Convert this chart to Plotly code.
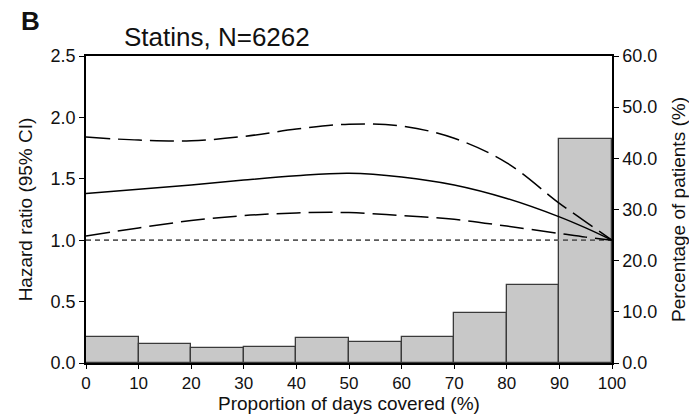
import plotly.graph_objects as go

# ---- data ----
pdc_bin_centers = [5, 15, 25, 35, 45, 55, 65, 75, 85, 95]
pct_patients = [5.1, 3.75, 2.9, 3.2, 4.9, 4.1, 5.0, 9.8, 15.2, 43.7]

pdc_x = [0, 10, 20, 30, 40, 50, 60, 70, 80, 90, 95, 100]
hr_est = [1.38, 1.415, 1.45, 1.49, 1.525, 1.545, 1.515, 1.45, 1.34, 1.19, 1.10, 1.0]
hr_upper = [1.84, 1.815, 1.81, 1.845, 1.905, 1.945, 1.93, 1.83, 1.63, 1.30, 1.15, 1.0]
hr_lower = [1.035, 1.10, 1.16, 1.20, 1.222, 1.225, 1.20, 1.17, 1.115, 1.055, 1.025, 1.0]

ref_x = [0, 100]
ref_y = [1.0, 1.0]

x_ticks = [0, 10, 20, 30, 40, 50, 60, 70, 80, 90, 100]

FONT = "Liberation Sans, Arial, sans-serif"
INK = "#111111"

fig = go.Figure()

fig.add_trace(go.Bar(
    x=pdc_bin_centers, y=pct_patients, width=10,
    marker=dict(color="#c8c8c8", line=dict(color="#3a3a3a", width=1.3)),
    yaxis="y", showlegend=False, hoverinfo="skip"))

fig.add_trace(go.Scatter(
    x=ref_x, y=ref_y, mode="lines", yaxis="y2",
    line=dict(color="#5a5a5a", width=1.8, dash="5px,4px"), showlegend=False))

for ys, dash in [(hr_upper, "24px,8px"), (hr_lower, "24px,8px"), (hr_est, "solid")]:
    fig.add_trace(go.Scatter(
        x=pdc_x, y=ys, mode="lines", yaxis="y2",
        line=dict(color="#000000", width=1.5, dash=dash, shape="spline", smoothing=1.0),
        showlegend=False))

axis_common = dict(showgrid=False, zeroline=False, showline=True, linecolor="#000000",
                   linewidth=1.5, ticks="outside", ticklen=5, tickwidth=1, tickcolor="#000000",
                   automargin=False,
                   tickfont=dict(family=FONT, size=18, color=INK))

fig.update_layout(
    width=689, height=420,
    margin=dict(l=86, r=77, t=56, b=57),
    paper_bgcolor="white", plot_bgcolor="white",
    bargap=0,
    font=dict(family=FONT, color=INK),
    xaxis=dict(range=[0, 100], tickvals=x_ticks, mirror=True,
               **{**axis_common, "ticklen": 4,
                  "tickfont": dict(family=FONT, size=17, color=INK)}),
    yaxis=dict(range=[0, 60], dtick=10, tickformat=".1f", side="right",
               title=dict(text="Percentage of patients (%)",
                          font=dict(family=FONT, size=19, color=INK), standoff=17),
               **axis_common),
    yaxis2=dict(range=[0, 2.5], dtick=0.5, tickformat=".1f", side="left", overlaying="y",
                title=dict(text="Hazard ratio (95% CI)",
                           font=dict(family=FONT, size=19, color=INK), standoff=13),
                **axis_common),
    annotations=[
        dict(text="Statins, N=6262", x=217, y=37, xref="paper", yref="paper",
             showarrow=False, font=dict(family=FONT, size=26, color=INK)),
        dict(text="<b>B</b>", x=30, y=21, xref="paper", yref="paper",
             showarrow=False, font=dict(family=FONT, size=26, color=INK)),
        dict(text="Proportion of days covered (%)", x=349, y=403, xref="paper", yref="paper",
             showarrow=False, font=dict(family=FONT, size=19, color=INK)),
    ],
)

# convert pixel positions of annotations to paper coordinates
W, H = 689, 420
l, r, t, b = 86, 77, 56, 57
pw, ph = W - l - r, H - t - b
new_ann = []
for a in fig.layout.annotations:
    px, py = a.x, a.y
    a.x = (px - l) / pw
    a.y = 1 - (py - t) / ph
    a.xanchor = "center"
    a.yanchor = "middle"
    new_ann.append(a)
fig.layout.annotations = new_ann

fig.write_html("out.html")
